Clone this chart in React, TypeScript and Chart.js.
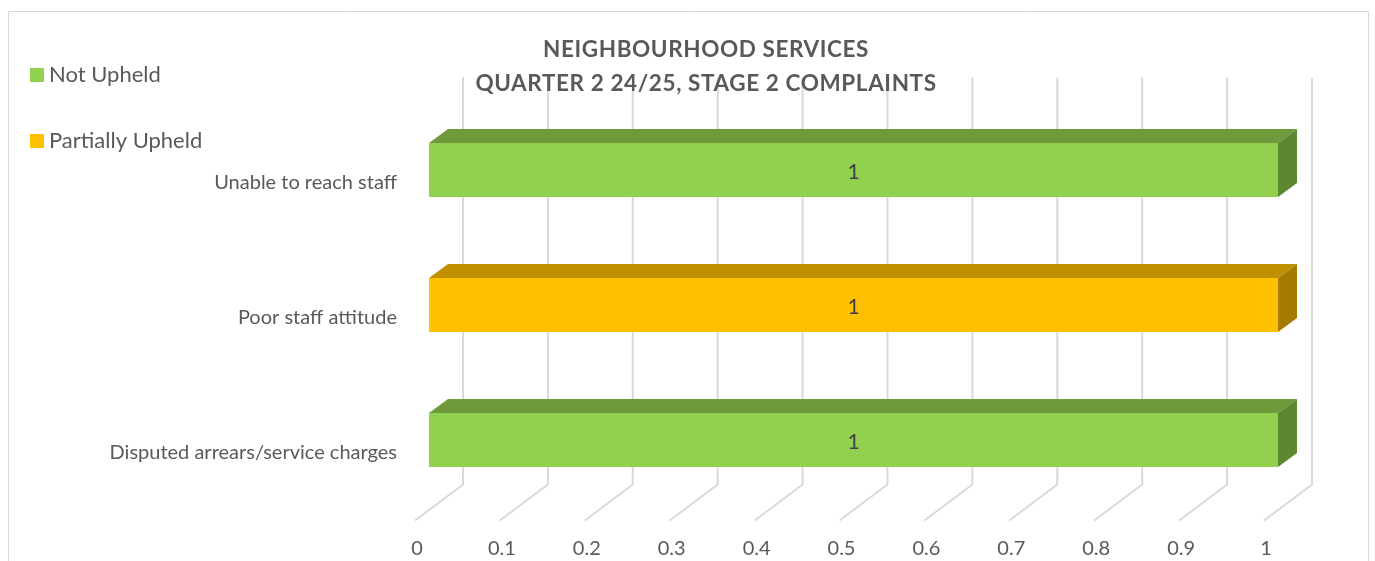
import React, { useEffect, useRef } from "react";
import { Chart, registerables } from "chart.js";

Chart.register(...registerables);

const categories = ["Unable to reach staff", "Poor staff attitude", "Disputed arrears/service charges"];
const notUpheld = [1, null, 1];
const partiallyUpheld = [null, 1, null];
const xTickValues = [0, 0.1, 0.2, 0.3, 0.4, 0.5, 0.6, 0.7, 0.8, 0.9, 1];
const xTickLabels = ["0", "0.1", "0.2", "0.3", "0.4", "0.5", "0.6", "0.7", "0.8", "0.9", "1"];
const titleLines = ["NEIGHBOURHOOD SERVICES", "QUARTER 2 24/25, STAGE 2 COMPLAINTS"];
const seriesNames = ["Not Upheld", "Partially Upheld"];

const FRONT = ["#92D050", "#FFC000"];
const TOP = ["#6F9A3B", "#C09000"];
const SIDE = ["#5E8731", "#A67C00"];
const FONT = "Lato, 'Open Sans', sans-serif";
const TEXT = "#595959";

const depthPlugin = {
  id: "depth3d",
  beforeDatasetsDraw(chart: any) {
    const { ctx, chartArea, scales } = chart;
    const xs = scales.x;
    const ca = chartArea;
    ctx.save();
    // chart border
    ctx.strokeStyle = "#D9D9D9";
    ctx.lineWidth = 1;
    ctx.beginPath();
    ctx.moveTo(8.5, 570);
    ctx.lineTo(8.5, 11.5);
    ctx.lineTo(1368.5, 11.5);
    ctx.lineTo(1368.5, 570);
    ctx.stroke();
    // back wall gridlines + floor
    ctx.strokeStyle = "#D9D9D9";
    ctx.lineWidth = 2;
    const wallBottom = ca.bottom - 23;
    for (const v of xTickValues) {
      const px = xs.getPixelForValue(v);
      ctx.beginPath();
      ctx.moveTo(px + 34, ca.top - 25);
      ctx.lineTo(px + 34, wallBottom);
      ctx.lineTo(px - 14, ca.bottom + 13);
      ctx.stroke();
    }
    // x tick labels
    ctx.fillStyle = TEXT;
    ctx.font = `20px ${FONT}`;
    ctx.textAlign = "center";
    ctx.textBaseline = "middle";
    xTickValues.forEach((v, i) => {
      const px = xs.getPixelForValue(v);
      ctx.fillText(xTickLabels[i], px - 12, ca.bottom + 41);
    });
    // category labels
    const ys = scales.y;
    ctx.textAlign = "right";
    ctx.font = `20px ${FONT}`;
    categories.forEach((c, i) => {
      const py = ys.getPixelForValue(i);
      ctx.fillText(c, ca.left - 32, py + 13);
    });
    // title
    ctx.textAlign = "center";
    ctx.font = `bold 22.5px ${FONT}`;
    (ctx as any).letterSpacing = "0.6px";
    ctx.fillText(titleLines[0], 706, 50);
    ctx.fillText(titleLines[1], 706, 84);
    (ctx as any).letterSpacing = "0px";
    // legend
    ctx.textAlign = "left";
    ctx.font = `22px ${FONT}`;
    seriesNames.forEach((n, i) => {
      const cy = 75 + i * 66;
      ctx.fillStyle = FRONT[i];
      ctx.fillRect(30, cy - 7, 14, 14);
      ctx.fillStyle = TEXT;
      ctx.fillText(n, 49, cy);
    });
    ctx.restore();
  },
  afterDatasetsDraw(chart: any) {
    const { ctx } = chart;
    ctx.save();
    chart.data.datasets.forEach((ds: any, di: number) => {
      const meta = chart.getDatasetMeta(di);
      meta.data.forEach((el: any, i: number) => {
        const val = ds.data[i];
        if (val === null || val === undefined || val === 0) return;
        const { x, y, base, height } = el.getProps(["x", "y", "base", "height"], true);
        const left = Math.min(base, x);
        const right = Math.max(base, x);
        const top = y - height / 2;
        const bottom = y + height / 2;
        const dx = 19;
        const dy = 14;
        ctx.fillStyle = TOP[di];
        ctx.beginPath();
        ctx.moveTo(left, top);
        ctx.lineTo(left + dx, top - dy);
        ctx.lineTo(right + dx, top - dy);
        ctx.lineTo(right, top);
        ctx.closePath();
        ctx.fill();
        ctx.fillStyle = SIDE[di];
        ctx.beginPath();
        ctx.moveTo(right, top);
        ctx.lineTo(right + dx, top - dy);
        ctx.lineTo(right + dx, bottom - dy);
        ctx.lineTo(right, bottom);
        ctx.closePath();
        ctx.fill();
        ctx.fillStyle = "#404040";
        ctx.font = `21px ${FONT}`;
        ctx.textAlign = "center";
        ctx.textBaseline = "middle";
        ctx.fillText(String(val), (left + right) / 2, y + 2);
      });
    });
    ctx.restore();
  },
};

export default function App() {
  const ref = useRef<HTMLCanvasElement>(null);
  useEffect(() => {
    if (!ref.current) return;
    const chart = new Chart(ref.current, {
      type: "bar",
      data: {
        labels: categories,
        datasets: [
          { label: seriesNames[0], data: notUpheld as any, backgroundColor: FRONT[0], borderWidth: 0 },
          { label: seriesNames[1], data: partiallyUpheld as any, backgroundColor: FRONT[1], borderWidth: 0 },
        ],
      },
      options: {
        indexAxis: "y",
        responsive: false,
        animation: false,
        datasets: { bar: { categoryPercentage: 1, barPercentage: 0.4 } },
        layout: { padding: { left: 429, right: 97, top: 102.5, bottom: 53.5 } },
        scales: {
          x: { display: false, min: 0, max: 1, stacked: true },
          y: { display: false, stacked: true },
        },
        plugins: { legend: { display: false }, title: { display: false }, tooltip: { enabled: false } },
      },
      plugins: [depthPlugin],
    });
    return () => chart.destroy();
  }, []);
  return (
    <canvas
      ref={ref}
      width={1375}
      height={561}
      style={{ position: "fixed", left: 0, top: 0, width: 1375, height: 561, background: "#fff" }}
    />
  );
}
